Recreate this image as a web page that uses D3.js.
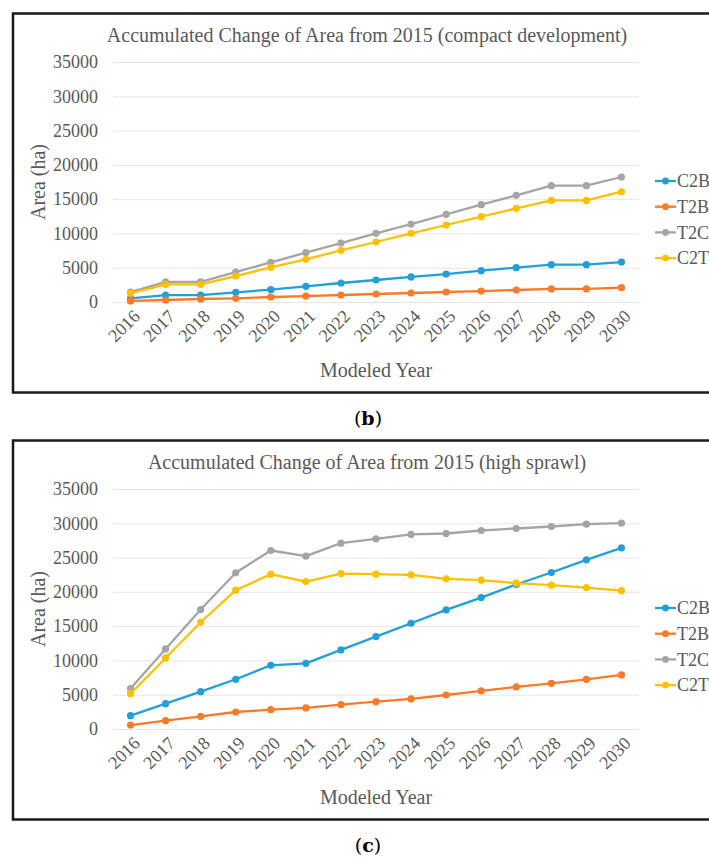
<!DOCTYPE html>
<html>
<head>
<meta charset="utf-8">
<script src="https://cdn.jsdelivr.net/npm/d3@7"></script>
<style>
  html, body { margin: 0; padding: 0; background: #fff; }
  svg { display: block; }
</style>
</head>
<body>
<svg id="chart" width="709" height="859"></svg>
<script>
// ---------- data ----------
const years = ["2016","2017","2018","2019","2020","2021","2022","2023","2024","2025","2026","2027","2028","2029","2030"];
const yTicks = [0, 5000, 10000, 15000, 20000, 25000, 30000, 35000];
const seriesNames = ["C2B", "T2B", "T2C", "C2T"];

// (b) compact development
const compactC2B = [540, 1000, 1000, 1410, 1800, 2280, 2770, 3210, 3650, 4080, 4570, 5010, 5440, 5440, 5830];
const compactT2B = [150, 290, 440, 540, 730, 870, 1020, 1170, 1310, 1460, 1600, 1750, 1900, 1900, 2090];
const compactT2C = [1450, 2930, 2930, 4370, 5790, 7190, 8600, 10010, 11370, 12780, 14190, 15550, 16960, 16960, 18230];
const compactC2T = [1270, 2560, 2560, 3790, 5060, 6220, 7530, 8750, 10010, 11230, 12440, 13660, 14820, 14820, 16080];

// (c) high sprawl
const sprawlC2B = [1940, 3690, 5450, 7250, 9290, 9580, 11530, 13480, 15420, 17370, 19170, 21070, 22820, 24670, 26420];
const sprawlT2B = [580, 1210, 1840, 2480, 2820, 3070, 3550, 3990, 4380, 4960, 5550, 6130, 6660, 7240, 7880];
const sprawlT2C = [5900, 11680, 17420, 22780, 26030, 25200, 27100, 27740, 28370, 28510, 28950, 29240, 29530, 29870, 30020];
const sprawlC2T = [5150, 10360, 15570, 20240, 22580, 21500, 22670, 22580, 22480, 21900, 21700, 21260, 20970, 20630, 20190];

const titleB = "Accumulated Change of Area from 2015 (compact development)";
const titleC = "Accumulated Change of Area from 2015 (high sprawl)";
const xTitle = "Modeled Year";
const yTitle = "Area (ha)";

// ---------- styles ----------
const colors = { C2B: "#229ed9", T2B: "#fb7a2a", T2C: "#a5a5a5", C2T: "#ffc000" };
const serif = "'Liberation Serif', 'Times New Roman', serif";
const textGray = "#595959";

const svg = d3.select("#chart");

function drawPanel(offsetY, title, values, panelLabel) {
  const g = svg.append("g").attr("transform", `translate(0,${offsetY})`);

  // frame
  g.append("rect")
    .attr("x", 13).attr("y", 13.5)
    .attr("width", 740).attr("height", 379)
    .attr("fill", "none").attr("stroke", "#1a1a1a").attr("stroke-width", 2.5);

  const x = d3.scaleBand().domain(years).range([113, 639]);
  const y = d3.scaleLinear().domain([0, 35000]).range([302, 62]);

  // gridlines
  const yAxis = d3.axisLeft(y).tickValues(yTicks).tickSize(-(639 - 113)).tickPadding(15).tickFormat(d3.format("d"));
  const ya = g.append("g").attr("transform", "translate(113,0)").call(yAxis);
  ya.select(".domain").remove();
  ya.selectAll(".tick line").attr("stroke", "#e6e6e6").attr("stroke-width", 1);
  ya.selectAll(".tick text")
    .attr("fill", textGray).style("font-family", serif).style("font-size", "18px");

  // x axis labels
  const xAxis = d3.axisBottom(x).tickSize(0).tickPadding(0);
  const xa = g.append("g").attr("transform", "translate(0,302)").call(xAxis);
  xa.select(".domain").remove();
  xa.selectAll(".tick text")
    .attr("fill", textGray).style("font-family", serif).style("font-size", "18px")
    .attr("text-anchor", "end")
    .attr("dy", "0.35em")
    .attr("transform", "translate(6,11) rotate(-45)")
    .attr("y", 0).attr("x", 0);

  // title
  g.append("text").attr("x", 367).attr("y", 42)
    .attr("text-anchor", "middle").attr("fill", textGray)
    .style("font-family", serif).style("font-size", "20px").text(title);

  // axis titles
  g.append("text").attr("x", 376).attr("y", 377)
    .attr("text-anchor", "middle").attr("fill", textGray)
    .style("font-family", serif).style("font-size", "20px").text(xTitle);
  g.append("text").attr("transform", "translate(45,182) rotate(-90)")
    .attr("text-anchor", "middle").attr("fill", textGray)
    .style("font-family", serif).style("font-size", "20px").text(yTitle);

  const line = d3.line().x((d, i) => x(years[i]) + x.bandwidth() / 2).y(d => y(d));

  seriesNames.forEach(name => {
    const vals = values[name];
    g.append("path").datum(vals)
      .attr("d", line).attr("fill", "none")
      .attr("stroke", colors[name]).attr("stroke-width", 2.3)
      .attr("stroke-linejoin", "round");
    g.selectAll(null).data(vals).enter().append("circle")
      .attr("cx", (d, i) => x(years[i]) + x.bandwidth() / 2)
      .attr("cy", d => y(d))
      .attr("r", 3.6).attr("fill", colors[name]);
  });

  // legend
  const leg = g.append("g");
  seriesNames.forEach((name, i) => {
    const ly = 181 + i * 25.7;
    leg.append("line").attr("x1", 655).attr("x2", 676).attr("y1", ly).attr("y2", ly)
      .attr("stroke", colors[name]).attr("stroke-width", 2.3);
    leg.append("circle").attr("cx", 665.5).attr("cy", ly).attr("r", 3.4).attr("fill", colors[name]);
    leg.append("text").attr("x", 677).attr("y", ly).attr("dy", "0.35em")
      .attr("fill", textGray).style("font-family", serif).style("font-size", "18px").text(name);
  });

  // panel label
  const pl = g.append("text").attr("x", 368).attr("y", 425)
    .attr("text-anchor", "middle").attr("fill", "#000")
    .style("font-family", "'DejaVu Serif', serif").style("font-size", "19px");
  pl.append("tspan").text("(");
  pl.append("tspan").style("font-weight", "bold").text(panelLabel);
  pl.append("tspan").text(")");
}

drawPanel(0, titleB, { C2B: compactC2B, T2B: compactT2B, T2C: compactT2C, C2T: compactC2T }, "b");
drawPanel(427, titleC, { C2B: sprawlC2B, T2B: sprawlT2B, T2C: sprawlT2C, C2T: sprawlC2T }, "c");
</script>
</body>
</html>
